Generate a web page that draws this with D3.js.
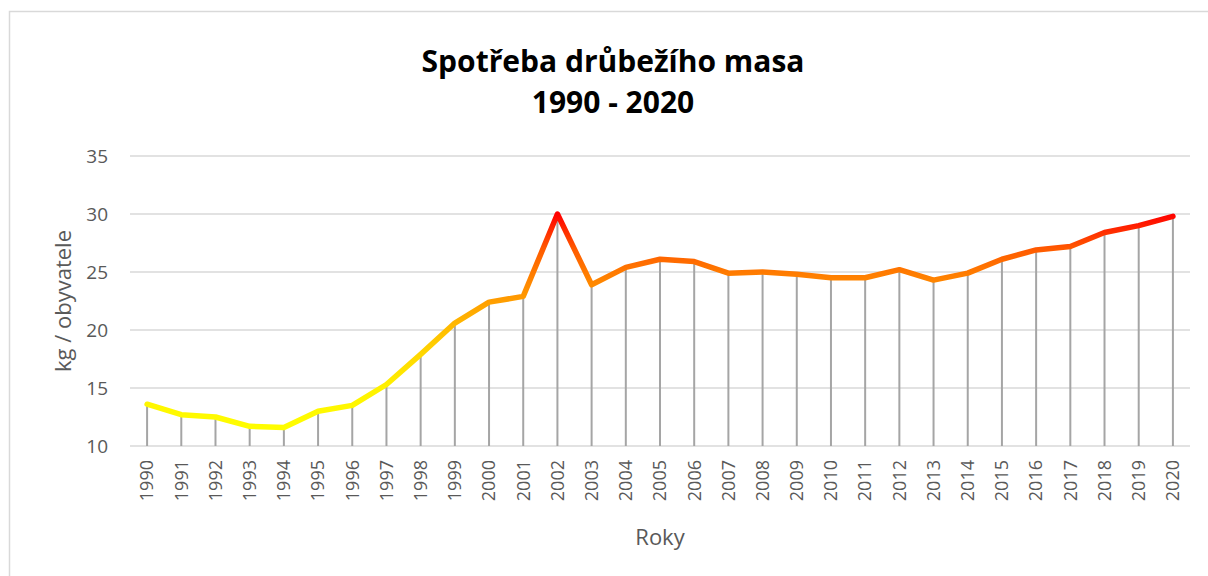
<!DOCTYPE html>
<html>
<head>
<meta charset="utf-8">
<script src="https://cdn.jsdelivr.net/npm/d3@7"></script>
<style>
  body { margin: 0; background: #fff; }
  text { font-family: "Open Sans", "Noto Sans", sans-serif; }
</style>
</head>
<body>
<svg id="chart"></svg>
<script>
// data
const years = d3.range(1990, 2021).map(String);
const consumption = [13.6, 12.7, 12.5, 11.7, 11.6, 13.0, 13.5, 15.3, 17.9, 20.6, 22.4, 22.9, 30.0, 23.9, 25.4, 26.1, 25.9, 24.9, 25.0, 24.8, 24.5, 24.5, 25.2, 24.3, 24.9, 26.1, 26.9, 27.2, 28.4, 29.0, 29.8];
const yTicks = [10, 15, 20, 25, 30, 35];
const titleLines = ["Spotřeba drůbežího masa", "1990 - 2020"];

const width = 1208, height = 576;
const margin = { top: 156, right: 18, bottom: 130, left: 130 };

const svg = d3.select("#chart").attr("width", width).attr("height", height);

// frame
svg.append("rect")
   .attr("x", 9.5).attr("y", 11.5)
   .attr("width", width + 20).attr("height", height + 20)
   .attr("fill", "none").attr("stroke", "#d9d9d9").attr("stroke-width", 1.5);

const x = d3.scaleBand().domain(years).range([margin.left, width - margin.right]);
const y = d3.scaleLinear().domain([10, 35]).range([height - margin.bottom, margin.top]);

// gridlines
svg.append("g").selectAll("line")
   .data(yTicks).enter().append("line")
   .attr("x1", margin.left).attr("x2", width - margin.right)
   .attr("y1", d => y(d)).attr("y2", d => y(d))
   .attr("stroke", "#d9d9d9").attr("stroke-width", 1.5);

// y axis labels
const yAxis = d3.axisLeft(y).tickValues(yTicks).tickSize(0).tickPadding(22);
svg.append("g")
   .attr("transform", "translate(" + margin.left + ",0)")
   .call(yAxis)
   .call(g => g.select(".domain").remove())
   .selectAll("text")
   .attr("fill", "#595959").style("font-size", "19px");

// drop lines
svg.append("g").selectAll("line")
   .data(consumption).enter().append("line")
   .attr("x1", (d, i) => x(years[i]) + x.bandwidth() / 2)
   .attr("x2", (d, i) => x(years[i]) + x.bandwidth() / 2)
   .attr("y1", d => y(d)).attr("y2", y(10))
   .attr("stroke", "#a5a5a5").attr("stroke-width", 2);

// x axis labels
const xAxis = d3.axisBottom(x).tickSize(0).tickPadding(0);
svg.append("g")
   .attr("transform", "translate(0," + y(10) + ")")
   .call(xAxis)
   .call(g => g.select(".domain").remove())
   .selectAll("text")
   .attr("transform", "rotate(-90)")
   .attr("text-anchor", "end")
   .attr("x", -14).attr("y", 0).attr("dy", "0.35em")
   .attr("fill", "#595959").style("font-size", "18px");

// gradient for the line
const grad = svg.append("defs").append("linearGradient")
   .attr("id", "lineGrad")
   .attr("gradientUnits", "userSpaceOnUse")
   .attr("x1", 0).attr("x2", 0)
   .attr("y1", y(11)).attr("y2", y(30));
[[11, "#ffff00"], [15, "#fff200"], [18, "#ffd600"], [22, "#ffa500"], [25, "#ff7a00"], [27, "#ff5a00"], [30, "#ff0000"]]
  .forEach(s => grad.append("stop")
    .attr("offset", (s[0] - 11) / 19)
    .attr("stop-color", s[1]));

const line = d3.line()
   .x((d, i) => x(years[i]) + x.bandwidth() / 2)
   .y(d => y(d));

svg.append("path")
   .datum(consumption)
   .attr("d", line)
   .attr("fill", "none")
   .attr("stroke", "url(#lineGrad)")
   .attr("stroke-width", 5.5)
   .attr("stroke-linejoin", "round")
   .attr("stroke-linecap", "round");

// title
svg.append("text")
   .attr("x", 613).attr("y", 0)
   .attr("text-anchor", "middle")
   .style("font-size", "30px").style("font-weight", "bold")
   .attr("fill", "#000")
   .selectAll("tspan").data(titleLines).enter().append("tspan")
   .attr("x", 613).attr("y", (d, i) => 72 + i * 41)
   .text(d => d);

// axis titles
svg.append("text")
   .attr("transform", "translate(71," + y(22.5) + ") rotate(-90)")
   .attr("text-anchor", "middle")
   .attr("fill", "#595959").style("font-size", "22px")
   .text("kg / obyvatele");

svg.append("text")
   .attr("x", 660).attr("y", 545)
   .attr("text-anchor", "middle")
   .attr("fill", "#595959").style("font-size", "22px")
   .text("Roky");
</script>
</body>
</html>
